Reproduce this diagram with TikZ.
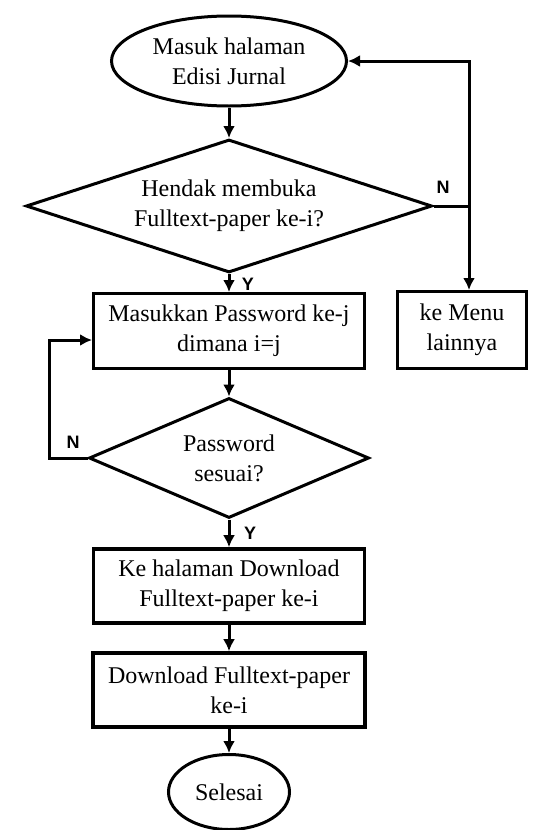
\documentclass[tikz,border=0pt]{standalone}
\usepackage{fontspec}
\setmainfont{Liberation Serif}
\setsansfont{Liberation Sans}
\usepackage{tikz}
\usetikzlibrary{shapes,arrows.meta}
\tikzset{
	block/.style    = {draw, rectangle, align=center, inner sep=0pt},
	decision/.style = {draw, diamond, align=center, inner sep=0pt},
	terminal/.style = {draw, ellipse, align=center, inner sep=0pt},
	lbl/.style      = {font=\sffamily\bfseries\fontsize{18}{18}\selectfont}, % Y/N
	branch/.style   = {coordinate}
}

\begin{document}
\begin{tikzpicture}[x=1pt, y=-1pt, line width=3pt, >={Latex[length=12pt,width=12pt]},
	font=\fontsize{24}{30}\selectfont]
	\useasboundingbox (0,0) rectangle (553,830);
	\draw
	node at (229,61)[terminal, minimum width=235pt, minimum height=90pt] (st) {Masuk halaman\\Edisi Jurnal}
	node at (229,206)[decision, aspect=3.05, minimum width=406pt, minimum height=133pt] (d1) {Hendak membuka\\Fulltext-paper ke-i?}
	node at (229,331)[block, minimum width=271pt, minimum height=75pt] (b1) {Masukkan Password ke-j\\dimana i=j}
	node at (462,330)[block, minimum width=129pt, minimum height=77pt] (m1) {ke Menu\\lainnya}
	node at (229,458)[decision, aspect=2.33, minimum width=280pt, minimum height=120pt] (d2) {Password\\sesuai?}
	node at (229,586)[block, line width=3.6pt, minimum width=271pt, minimum height=74pt] (b2) {Ke halaman Download\\Fulltext-paper ke-i}
	node at (229,690)[block, line width=3.6pt, minimum width=272pt, minimum height=74pt] (b3) {Download Fulltext-paper\\ke-i}
	node at (229,792)[terminal, minimum width=121pt, minimum height=75pt] (en) {Selesai};
	
	\coordinate (c1) at (469,206);
	\coordinate (c2) at (49,458);
	
	\draw[->] (st) -- (d1);
	\draw[->] (d1) -- (b1);
	\draw[->] (b1) -- (d2);
	\draw[->] (d2) -- (b2);
	\draw[->] (b2) -- (b3);
	\draw[->] (b3) -- (en);
	\draw (d1.east) -- (c1);
	\draw[->] (c1) |- (st.east);
	\draw[->] (c1) -- (c1 |- m1.north);
	\draw[->] (d2.west) -- (c2) |- ([yshift=-9pt]b1.west);
	
	\draw
	node at (443,187)[lbl] {N}
	node at (73,442)[lbl] {N}
	node at (248,284)[lbl] {Y}
	node at (250,533)[lbl] {Y};
\end{tikzpicture}
\end{document}
